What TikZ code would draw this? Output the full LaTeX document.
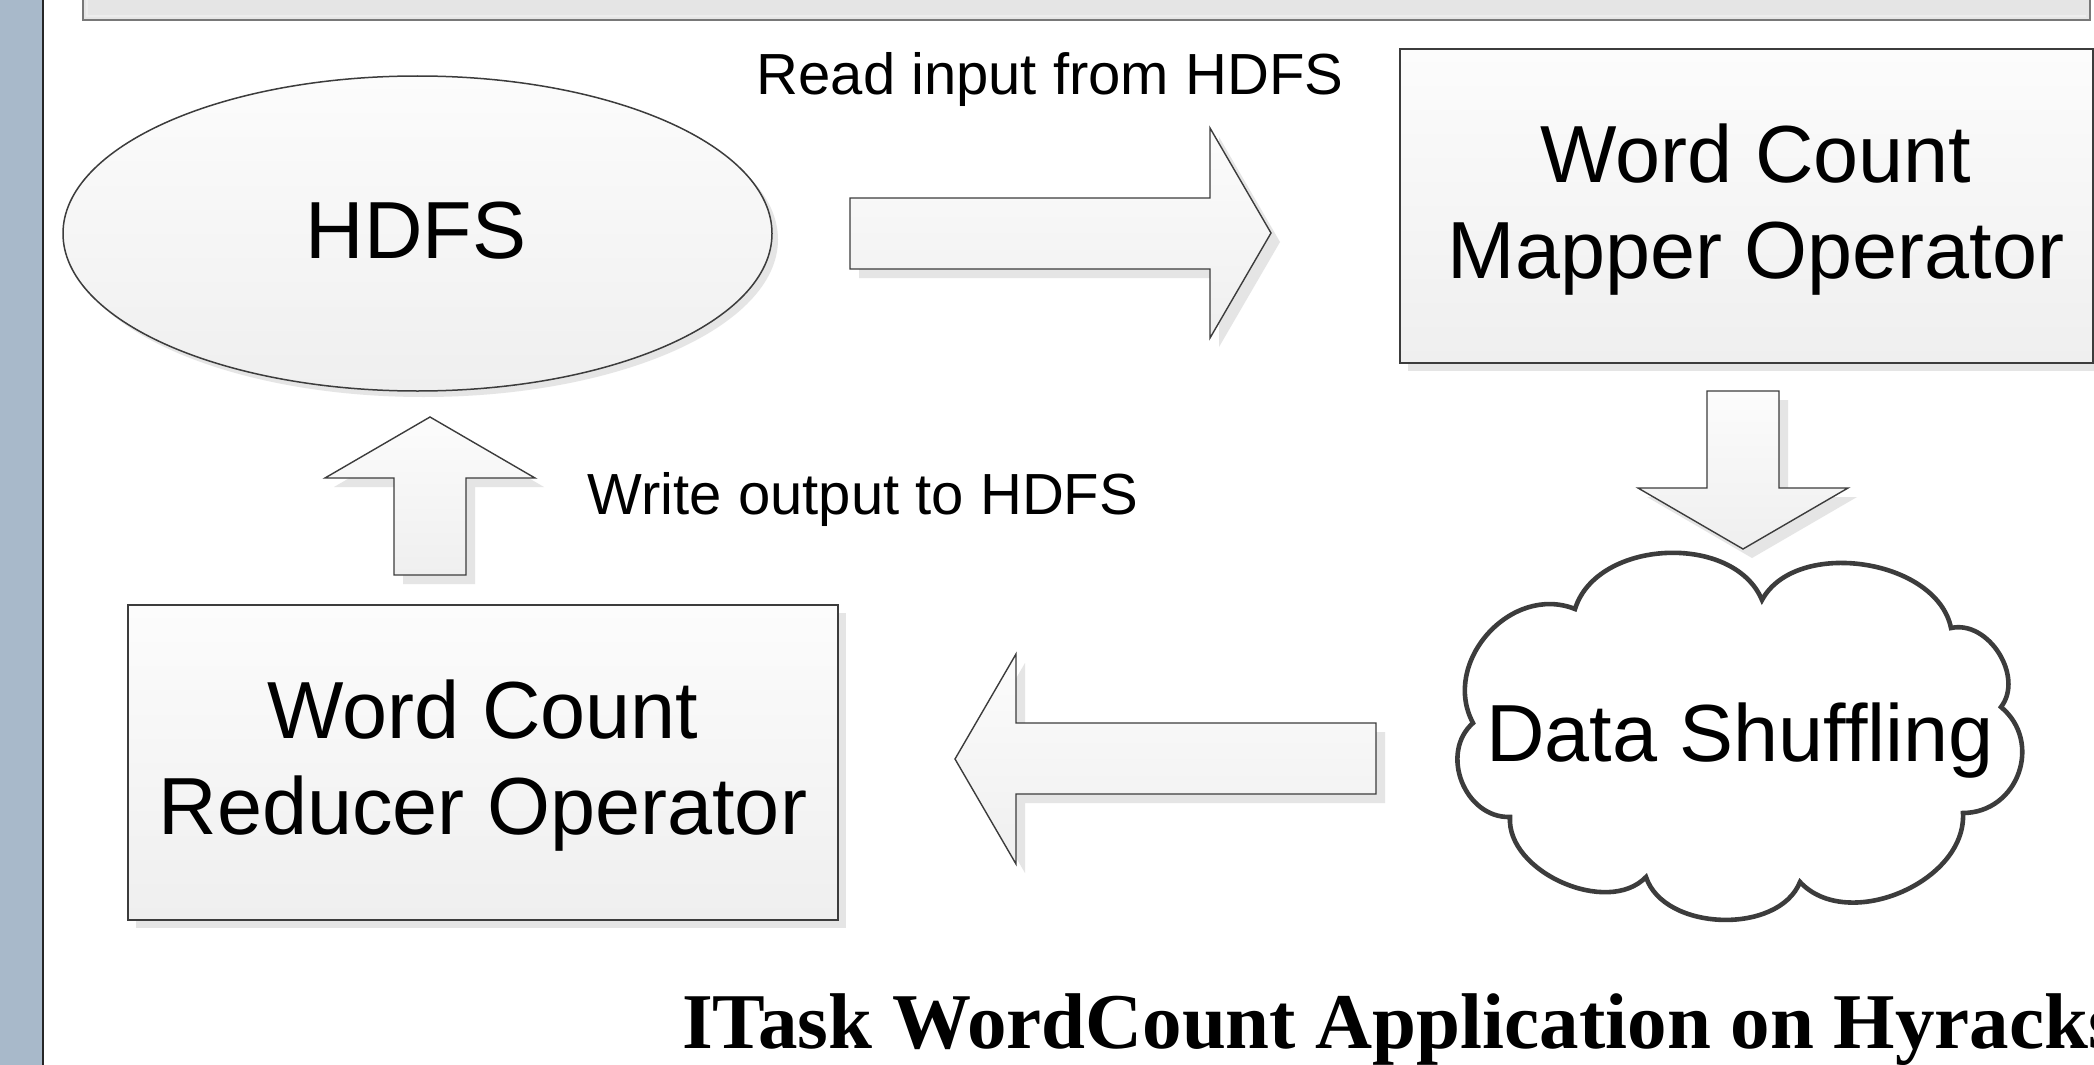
\documentclass[tikz,border=0pt]{standalone}
\usepackage{fontspec}
\setmainfont{Liberation Serif}
\setsansfont{Liberation Sans}[Ligatures=NoCommon]
\usetikzlibrary{shapes.geometric,shadows}

\definecolor{barblue}{RGB}{168,185,202}
\definecolor{edgegray}{RGB}{60,60,60}
\definecolor{cloudedge}{RGB}{60,60,60}
\definecolor{shadowgray}{RGB}{229,229,229}
\definecolor{fillhi}{RGB}{252,252,252}
\definecolor{filllo}{RGB}{239,239,239}
\definecolor{headerfill}{RGB}{229,229,229}
\definecolor{headeredge}{RGB}{120,120,120}

\tikzset{
  shade fill/.style={top color=fillhi, bottom color=filllo},
  soft shadow/.style={drop shadow={shadow xshift=#1pt, shadow yshift=-#1pt,
      fill=shadowgray, opacity=1}},
  opbox/.style={rectangle, draw=edgegray, line width=1.5pt, shade fill,
      soft shadow=8, inner sep=0pt},
  storeshape/.style={ellipse, draw=edgegray, line width=1.5pt, shade fill,
      soft shadow=6, inner sep=0pt},
  blockarrow/.style={draw=edgegray, line width=1.4pt, line join=miter,
      shade fill, soft shadow=9},
  puff/.style={bend left=70, looseness=#1},
  cloudline/.style={draw=cloudedge, line width=4.6pt, fill=white, line join=miter},
  bigtext/.style={font=\sffamily\fontsize{81}{96}\selectfont, align=center, inner sep=0pt},
  smalltext/.style={font=\sffamily\fontsize{58}{68}\selectfont, inner sep=0pt, anchor=base},
  titletext/.style={font=\rmfamily\bfseries\fontsize{79}{90}\selectfont, inner sep=0pt, anchor=base west}
}

\begin{document}
\begin{tikzpicture}[x=1pt, y=1pt]
  \useasboundingbox (0,0) rectangle (2094,-1065);
  \clip (0,0) rectangle (2094,-1065);
  \fill[white] (0,0) rectangle (2094,-1065);

  % side bar and header strip
  \fill[barblue] (0,0) rectangle (42,-1065);
  \draw[line width=2.5pt, black!85] (43,10) -- (43,-1075);
  \draw[draw=headeredge, fill=headerfill, line width=2pt] (83,10) rectangle (2090,-20);
  \draw[white!93!black, line width=2pt] (87,10) -- (87,-16) -- (2086,-16);

  % storage and operators
  \node[storeshape, minimum width=709pt, minimum height=315pt] (hdfs) at (417.5,-233.5) {};
  \node[bigtext, anchor=base] (hdfslabel) at (416,-258) {HDFS};

  \node[opbox, minimum width=693pt, minimum height=314pt] (mapper) at (1746.5,-206) {};
  \node[bigtext] (mapperlabel) at (1756,-209.5) {Word Count\\Mapper Operator};

  \node[opbox, minimum width=710pt, minimum height=315pt] (reducer) at (483,-762.5) {};
  \node[bigtext] (reducerlabel) at (483,-766) {Word Count\\Reducer Operator};

  % shuffle cloud
  \draw[cloudline]
    (1473,-723) to[puff=1.15] (1575,-609)
                to[puff=1.0]  (1762,-600)
                to[puff=0.95] (1951,-628)
                to[puff=1.05] (2001,-707)
                to[puff=1.25] (1963,-813)
                to[puff=1.0]  (1800,-882)
                to[puff=0.95] (1646,-877)
                to[puff=0.95] (1510,-817)
                to[puff=1.15] (1473,-723) -- cycle;
  \node[bigtext, anchor=base] (shuffle) at (1740,-761) {Data Shuffling};

  % block arrows between the stages
  \draw[blockarrow] (850,-198) -- (1210,-198) -- (1210,-128) -- (1271,-233)
        -- (1210,-338) -- (1210,-269) -- (850,-269) -- cycle;
  \draw[blockarrow] (1707,-391) -- (1779,-391) -- (1779,-488) -- (1848,-488)
        -- (1743,-549) -- (1638,-488) -- (1707,-488) -- cycle;
  \draw[blockarrow] (1376,-723) -- (1016,-723) -- (1016,-654) -- (955,-759)
        -- (1016,-864) -- (1016,-794) -- (1376,-794) -- cycle;
  \draw[blockarrow] (394,-575) -- (394,-478) -- (325,-478) -- (430,-417)
        -- (535,-478) -- (466,-478) -- (466,-575) -- cycle;

  % step labels
  \node[smalltext] (readlabel) at (1050,-95) {Read input from HDFS};
  \node[smalltext] (writelabel) at (863,-514) {Write output to HDFS};

  % caption
  \node[titletext] (caption) at (682,-1048) {ITask WordCount Application on Hyracks};
\end{tikzpicture}
\end{document}
